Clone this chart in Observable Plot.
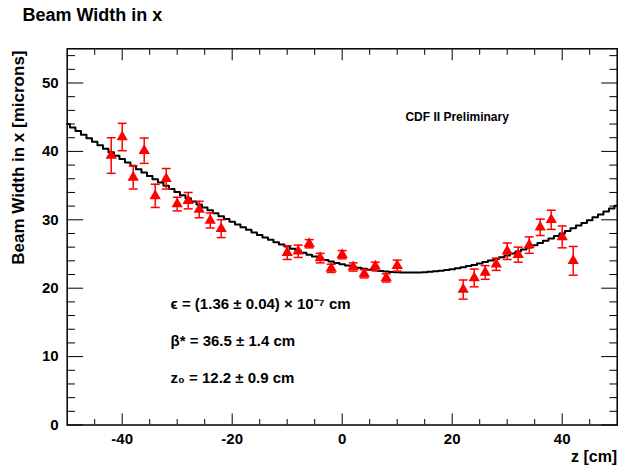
<!DOCTYPE html>
<html><head><meta charset="utf-8">
<script src="https://cdn.jsdelivr.net/npm/d3@7"></script>
<script src="https://cdn.jsdelivr.net/npm/@observablehq/plot@0.6"></script>
<style>body{margin:0;background:#fff;}</style>
</head><body><div id="chart"></div>
<script>
// measured points
const zPos  = [-42,-40,-38,-36,-34,-32,-30,-28,-26,-24,-22,-10,-8,-6,-4,-2,0,2,4,6,8,10,22,24,26,28,30,32,34,36,38,40,42];
const beamW = [39.4,42.1,36.2,40.1,33.5,36.0,32.3,32.8,31.5,29.9,28.7,25.2,25.4,26.5,24.4,22.9,24.9,23.1,22.1,23.2,21.5,23.3,19.8,21.5,22.3,23.5,25.4,24.9,26.3,28.9,30.0,27.5,24.0];
const beamE = [2.6,2.0,1.7,1.85,1.7,1.5,1.0,1.2,1.2,1.1,1.3,1.0,0.9,0.6,0.7,0.6,0.6,0.6,0.6,0.6,0.6,0.8,1.4,1.3,1.0,0.9,1.2,1.1,1.2,1.2,1.4,1.6,2.1];
// fit curve (read at each cm)
const fitZ = [-50,-49,-48,-47,-46,-45,-44,-43,-42,-41,-40,-39,-38,-37,-36,-35,-34,-33,-32,-31,-30,-29,-28,-27,-26,-25,-24,-23,-22,-21,-20,-19,-18,-17,-16,-15,-14,-13,-12,-11,-10,-9,-8,-7,-6,-5,-4,-3,-2,-1,0,1,2,3,4,5,6,7,8,9,10,11,12,13,14,15,16,17,18,19,20,21,22,23,24,25,26,27,28,29,30,31,32,33,34,35,36,37,38,39,40,41,42,43,44,45,46,47,48,49,50];
const fitW = [44.02,43.50,42.97,42.45,41.93,41.42,40.91,40.39,39.89,39.38,
  38.88,38.38,37.89,37.39,36.91,36.42,35.94,35.46,34.99,34.52,
  34.06,33.60,33.14,32.69,32.25,31.81,31.38,30.95,30.53,30.12,
  29.71,29.31,28.92,28.53,28.16,27.79,27.43,27.07,26.73,26.40,
  26.08,25.77,25.46,25.17,24.90,24.63,24.38,24.13,23.91,23.69,
  23.49,
  23.31,23.13,22.98,22.84,22.71,22.60,22.50,22.43,22.37,22.32,
  22.29,22.28,22.29,22.31,22.35,22.40,22.47,22.56,22.66,22.78,
  22.92,23.07,23.23,23.41,23.61,23.82,24.04,24.28,24.53,24.79,
  25.06,25.35,25.64,25.95,26.27,26.60,26.93,27.28,27.64,28.01,
  28.38,28.76,29.15,29.55,29.95,30.36,30.78,31.21,31.64,32.07];
const xMajor = [-40,-20,0,20,40];
const xMinor = [-45,-35,-30,-25,-15,-10,-5,5,10,15,25,30,35,45];
const yMajor = [0,10,20,30,40,50];
const yMinor = [2,4,6,8,12,14,16,18,22,24,26,28,32,34,36,38,42,44,46,48,52,54];
const titleText = "Beam Width in x";
const yLabel = "Beam Width in x [microns]";
const xLabel = "z [cm]";
const prelim = "CDF II Preliminary";
const fitLines = ["ϵ = (1.36 ± 0.04) × 10⁻⁷ cm", "β* = 36.5 ± 1.4 cm", "z₀ = 12.2 ± 0.9 cm"];
const fitLineY = [17.6, 12.2, 6.9];

const pts = zPos.map((z, i) => ({z, w: beamW[i], e: beamE[i]}));
const fit = fitZ.map((z, i) => ({z, w: fitW[i]}));
const RED = "#ff0000";
const cap = {draw(ctx) { ctx.moveTo(-4.5, 0); ctx.lineTo(4.5, 0); }};
const fmt = d => String(d);

const chart = Plot.plot({
  width: 621, height: 468,
  marginLeft: 66.7, marginRight: 4.3, marginTop: 48.3, marginBottom: 43.5,
  x: {domain: [-50, 50]},
  y: {domain: [0, 55]},
  style: {fontFamily: "'Liberation Sans', Arial, sans-serif", fontWeight: "bold", fontSize: "15px", background: "#fff", color: "#000"},
  marks: [
    // tick labels
    Plot.axisX(xMajor, {anchor: "bottom", tickSize: 0, tickPadding: 8.3, label: null, tickFormat: fmt, fontSize: 15, fontWeight: "bold"}),
    Plot.axisY(yMajor, {anchor: "left", tickSize: 0, tickPadding: 8.5, label: null, tickFormat: fmt, fontSize: 15, fontWeight: "bold"}),
    // inward ticks
    Plot.axisX(xMajor, {anchor: "bottom", tickSize: 11, dy: -11, tickFormat: () => "", label: null}),
    Plot.axisX(xMinor, {anchor: "bottom", tickSize: 5.5, dy: -5.5, tickFormat: () => "", label: null}),
    Plot.axisX(xMajor, {anchor: "top", tickSize: 11, dy: 11, tickFormat: () => "", label: null}),
    Plot.axisX(xMinor, {anchor: "top", tickSize: 5.5, dy: 5.5, tickFormat: () => "", label: null}),
    Plot.axisY(yMajor, {anchor: "left", tickSize: 16.5, dx: 16.5, tickFormat: () => "", label: null}),
    Plot.axisY(yMinor, {anchor: "left", tickSize: 8.3, dx: 8.3, tickFormat: () => "", label: null}),
    Plot.axisY(yMajor, {anchor: "right", tickSize: 16.5, dx: -16.5, tickFormat: () => "", label: null}),
    Plot.axisY(yMinor, {anchor: "right", tickSize: 8.3, dx: -8.3, tickFormat: () => "", label: null}),
    Plot.frame({stroke: "#000", strokeWidth: 1.5}),
    // fit curve
    Plot.line(fit, {x: "z", y: "w", curve: "step", stroke: "#000", strokeWidth: 2}),
    // error bars
    Plot.ruleX(pts, {x: "z", y1: d => d.w - d.e, y2: d => d.w + d.e, stroke: RED, strokeWidth: 1.5}),
    Plot.dot(pts, {x: "z", y: d => d.w + d.e, symbol: cap, stroke: RED, strokeWidth: 1.5, fill: "none"}),
    Plot.dot(pts, {x: "z", y: d => d.w - d.e, symbol: cap, stroke: RED, strokeWidth: 1.5, fill: "none"}),
    // markers
    Plot.dot(pts, {x: "z", y: "w", symbol: "triangle", r: 4.2, fill: RED, stroke: "none"}),
    // texts
    Plot.text([titleText], {frameAnchor: "top-left", textAnchor: "start", lineAnchor: "bottom", dx: -44.7, dy: -28.3, fontSize: 18, fontWeight: "bold"}),
    Plot.text([yLabel], {frameAnchor: "top-left", rotate: -90, textAnchor: "end", lineAnchor: "middle", dx: -48.5, dy: 1.7, fontSize: 17, fontWeight: "bold"}),
    Plot.text([xLabel], {frameAnchor: "bottom-right", textAnchor: "end", lineAnchor: "bottom", dx: 0, dy: 36.5, fontSize: 16, fontWeight: "bold"}),
    Plot.text([prelim], {x: 11.5, y: 45, textAnchor: "start", lineAnchor: "middle", fontSize: 12, fontWeight: "bold"}),
    Plot.text(fitLines, {x: -31.2, y: (d, i) => fitLineY[i], textAnchor: "start", lineAnchor: "middle", fontSize: 15, fontWeight: "bold"})
  ]
});
document.getElementById("chart").appendChild(chart);
</script>
</body></html>
